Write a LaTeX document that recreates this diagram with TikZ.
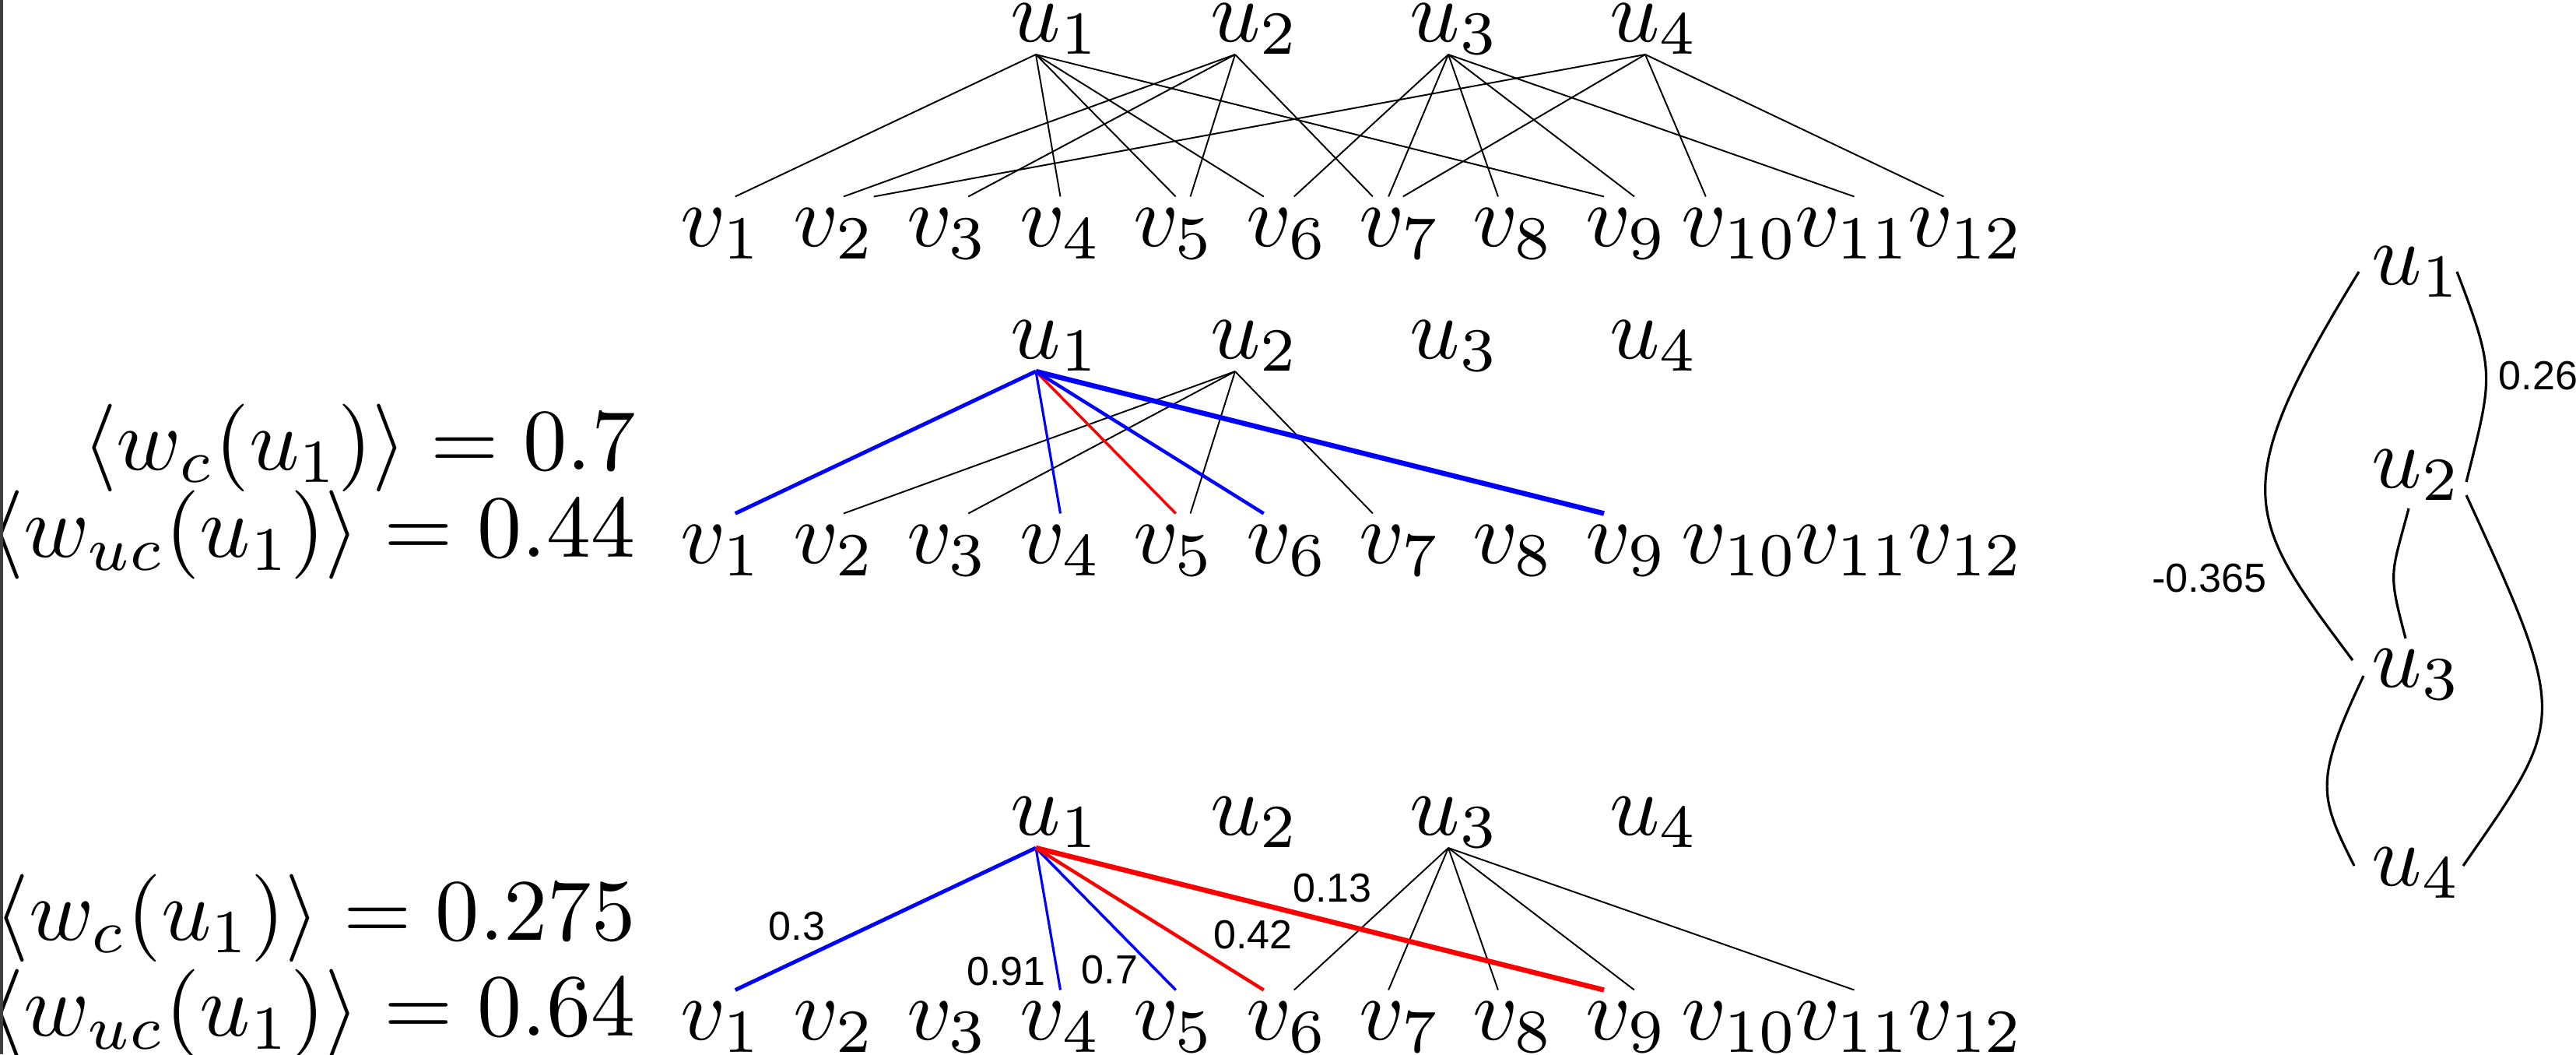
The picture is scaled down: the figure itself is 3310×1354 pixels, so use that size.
\documentclass[tikz,border=0pt]{standalone}
\usepackage{fontspec}
\usepackage{graphicx}
\newfontfamily\lsans{Liberation Sans}
\newcommand{\mylbl}[1]{\scalebox{3.2}{$#1$}}
\newcommand{\myfrm}[2][3.2]{\scalebox{#1}{$#2$}}
\definecolor{bordergray}{RGB}{61,63,65}
\begin{document}
\begin{tikzpicture}[x=0.01cm, y=0.01cm,
  vtx/.style={rectangle, inner sep=0pt, minimum width=6cm, minimum height=0.276cm},
  lab/.style={inner sep=0pt},
  e/.style={line width=0.55pt, black},
  wlab/.style={inner sep=0pt, font=\lsans\fontsize{14.8}{17}\selectfont},
  rc/.style={line width=0.9pt, black}
]
\useasboundingbox (0,0) rectangle (3310,-1354);

% formulas
\node[lab,anchor=base east] (f1) at (817,-603) {\myfrm{\langle w_c(u_1)\rangle = 0.7}};
\node[lab,anchor=base east] (f2) at (817,-715) {\myfrm[3.24]{\langle w_{uc}(u_1)\rangle = 0.44}};
\node[lab,anchor=base east] (f3) at (817,-1207) {\myfrm{\langle w_c(u_1)\rangle = 0.275}};
\node[lab,anchor=base east] (f4) at (817,-1330) {\myfrm[3.24]{\langle w_{uc}(u_1)\rangle = 0.64}};

\fill[bordergray] (0,0) rectangle (4,-1354);

% three bipartite graphs
\foreach \g/\dy in {T/0,M/407,B/1019}{
  \foreach \k/\x in {1/1331,2/1587,3/1861,4/2114}{
    \coordinate (\g u\k) at (\x,-70-\dy);
    \node[lab,anchor=base west] (\g lu\k) at ({1298+256.5*(\k-1)},-53-\dy) {\mylbl{u_{\k}}};
  }
  \foreach \k/\x in {1/914,2/1044,3/1217,4/1365,5/1525,6/1647,7/1778,8/1930,9/2119,10/2198,11/2424,12/2528}{
    \node[vtx] (\g v\k) at (\x,-267-\dy) {};
    \node[lab,anchor=base] (\g lv\k) at ({927+145.4*(\k-1)},-316-\dy) {\mylbl{v_{\k}}};
  }
}

% top graph edges
\foreach \a/\b in {1/1,1/4,1/5,1/6,1/9,2/2,2/3,2/5,2/7,3/6,3/7,3/8,3/9,3/11,4/2,4/7,4/10,4/12}
  \draw[e] (Tu\a) -- (Tv\b);

% middle graph edges
\foreach \b in {2,3,5,7} \draw[e] (Mu2) -- (Mv\b);
\draw[blue, line width=1.4pt] (Mu1) -- (Mv1);
\draw[blue, line width=0.9pt] (Mu1) -- (Mv4);
\draw[red, line width=1pt] (Mu1) -- (Mv5);
\draw[blue, line width=1.25pt] (Mu1) -- (Mv6);
\draw[blue, line width=1.85pt] (Mu1) -- (Mv9);

% bottom graph edges
\foreach \b in {6,7,8,9,11} \draw[e] (Bu3) -- (Bv\b);
\draw[blue, line width=1.4pt] (Bu1) -- (Bv1);
\draw[blue, line width=0.9pt] (Bu1) -- (Bv4);
\draw[blue, line width=1pt] (Bu1) -- (Bv5);
\draw[red, line width=1.25pt] (Bu1) -- (Bv6);
\draw[red, line width=1.85pt] (Bu1) -- (Bv9);

% bottom edge weights
\node[wlab] (w1) at (1024,-1190) {0.3};
\node[wlab] (w4) at (1293,-1248) {0.91};
\node[wlab] (w5) at (1426,-1246) {0.7};
\node[wlab] (w6) at (1610,-1201) {0.42};
\node[wlab] (w9) at (1712,-1141) {0.13};

% right graph
\foreach \k/\y in {1/365,2/626,3/882,4/1137}
  \node[lab,anchor=base west] (R\k) at (3047,-\y) {\mylbl{u_{\k}}};
\draw[rc] ([shift={(-16,16)}]R1.base west) .. controls (2859,-629) and (2885,-664) .. ([shift={(-24,34)}]R3.base west);
\draw[rc] ([shift={(110,16)}]R1.base west) .. controls (3207,-479) and (3203,-483) .. ([shift={(122,7)}]R2.base west);
\draw[rc] ([shift={(48,-27)}]R2.base west) .. controls (3072,-740) and (3068,-733) .. ([shift={(44,62)}]R3.base west);
\draw[rc] ([shift={(122,-10)}]R2.base west) .. controls (3303,-927) and (3296,-923) .. ([shift={(118,25)}]R4.base west);
\draw[rc] ([shift={(-10,14)}]R3.base west) .. controls (2973,-1003) and (2980,-1023) .. ([shift={(-22,25)}]R4.base west);
\node[wlab,anchor=west] (r12) at (3210,-482.5) {0.26};
\node[wlab] (r13) at (2839,-743) {-0.365};
\end{tikzpicture}
\end{document}
